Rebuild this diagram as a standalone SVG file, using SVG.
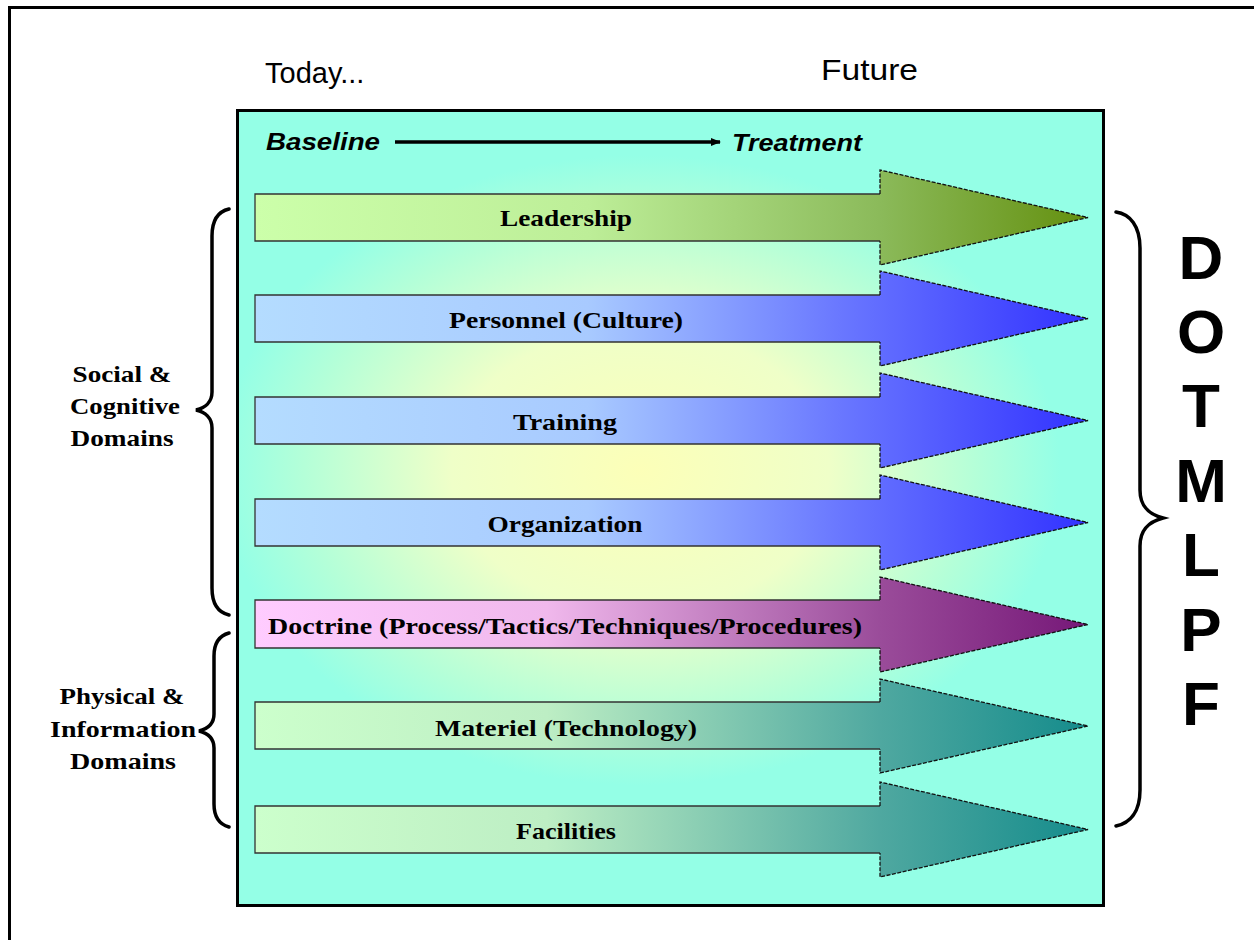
<svg xmlns="http://www.w3.org/2000/svg" width="1254" height="940" viewBox="0 0 1254 940">
<style>
.hdr{font-family:"Liberation Sans",Arial,sans-serif;font-size:29px;fill:#000}
.bt{font-family:"Liberation Sans",Arial,sans-serif;font-size:23px;font-weight:bold;font-style:italic;fill:#000}
.lbl{font-family:"Liberation Serif","Times New Roman",serif;font-size:24px;font-weight:bold;fill:#000;text-anchor:middle}
.side{font-family:"Liberation Serif","Times New Roman",serif;font-size:23px;font-weight:bold;fill:#000;text-anchor:middle}
.big{font-family:"Liberation Sans",Arial,sans-serif;font-size:62px;font-weight:bold;fill:#000;text-anchor:middle}
.shaft{fill:none;stroke:#333;stroke-width:1.3}
.head{fill:none;stroke:#111;stroke-width:1.3;stroke-dasharray:4 1.5}
.brace{fill:none;stroke:#000;stroke-width:3.5;stroke-linecap:round}
</style>
<defs>
<radialGradient id="bg" cx="640" cy="470" r="420" gradientUnits="userSpaceOnUse" gradientTransform="translate(640 470) scale(1 0.75) translate(-640 -470)">
<stop offset="0" stop-color="#FCFFB8"/>
<stop offset="0.45" stop-color="#EFFFC8"/>
<stop offset="0.8" stop-color="#B4FFD8"/>
<stop offset="1" stop-color="#94FFE6"/>
</radialGradient>
<linearGradient id="gL" x1="255" y1="0" x2="1088" y2="0" gradientUnits="userSpaceOnUse">
<stop offset="0" stop-color="#CCFFAA"/><stop offset="0.4" stop-color="#BDEE98"/><stop offset="0.75" stop-color="#8BBA5A"/><stop offset="1" stop-color="#64900F"/>
</linearGradient>
<linearGradient id="gB" x1="255" y1="0" x2="1088" y2="0" gradientUnits="userSpaceOnUse">
<stop offset="0" stop-color="#B4DCFF"/><stop offset="0.4" stop-color="#A8CAFF"/><stop offset="0.7" stop-color="#6A78FF"/><stop offset="1" stop-color="#3232FF"/>
</linearGradient>
<linearGradient id="gP" x1="255" y1="0" x2="1088" y2="0" gradientUnits="userSpaceOnUse">
<stop offset="0" stop-color="#FFCCFF"/><stop offset="0.35" stop-color="#F0B8EC"/><stop offset="0.75" stop-color="#9A4C9A"/><stop offset="1" stop-color="#761878"/>
</linearGradient>
<linearGradient id="gT" x1="255" y1="0" x2="1088" y2="0" gradientUnits="userSpaceOnUse">
<stop offset="0" stop-color="#CCFFCC"/><stop offset="0.35" stop-color="#BDEEC4"/><stop offset="0.75" stop-color="#4FA8A0"/><stop offset="1" stop-color="#158C8C"/>
</linearGradient>
<marker id="ah" markerWidth="10" markerHeight="8" refX="9" refY="4" orient="auto" markerUnits="userSpaceOnUse">
<path d="M0,0 L10,4 L0,8 Z" fill="#000"/>
</marker>
</defs>
<rect width="1254" height="940" fill="#fff"/>
<path d="M9.5,942 V7.5 H1256" fill="none" stroke="#000" stroke-width="3"/>
<text class="hdr" x="265" y="83">Today...</text>
<text class="hdr" x="821" y="80" textLength="97" lengthAdjust="spacingAndGlyphs">Future</text>
<g id="panel">
<rect x="237.5" y="110.5" width="866" height="795" fill="url(#bg)" stroke="#000" stroke-width="3"/>
</g>
<g id="timeline">
<text class="bt" x="266" y="150" textLength="114" lengthAdjust="spacingAndGlyphs">Baseline</text>
<line x1="395" y1="142" x2="720" y2="142" stroke="#000" stroke-width="3.5" marker-end="url(#ah)"/>
<text class="bt" x="732" y="151" textLength="130" lengthAdjust="spacingAndGlyphs">Treatment</text>
</g>
<g id="connectors"></g>
<g id="leadership">
<path d="M255,194 H880 V170 L1088,217.5 L880,265 V241 H255 Z" fill="url(#gL)"/>
<path class="shaft" d="M880,194 H255 V241 H880"/>
<path class="head" d="M880,194 V170 L1088,217.5 L880,265 V241"/>
<text class="lbl" x="566" y="226" textLength="132" lengthAdjust="spacingAndGlyphs">Leadership</text>
</g>
<g id="personnel">
<path d="M255,295 H880 V271 L1088,318.5 L880,366 V342 H255 Z" fill="url(#gB)"/>
<path class="shaft" d="M880,295 H255 V342 H880"/>
<path class="head" d="M880,295 V271 L1088,318.5 L880,366 V342"/>
<text class="lbl" x="566" y="328" textLength="234" lengthAdjust="spacingAndGlyphs">Personnel (Culture)</text>
</g>
<g id="training">
<path d="M255,397 H880 V373 L1088,420.5 L880,468 V444 H255 Z" fill="url(#gB)"/>
<path class="shaft" d="M880,397 H255 V444 H880"/>
<path class="head" d="M880,397 V373 L1088,420.5 L880,468 V444"/>
<text class="lbl" x="565" y="430" textLength="104" lengthAdjust="spacingAndGlyphs">Training</text>
</g>
<g id="organization">
<path d="M255,499 H880 V475 L1088,522.5 L880,570 V546 H255 Z" fill="url(#gB)"/>
<path class="shaft" d="M880,499 H255 V546 H880"/>
<path class="head" d="M880,499 V475 L1088,522.5 L880,570 V546"/>
<text class="lbl" x="565" y="532" textLength="155" lengthAdjust="spacingAndGlyphs">Organization</text>
</g>
<g id="doctrine">
<path d="M255,600 H880 V577 L1088,624.5 L880,672 V648 H255 Z" fill="url(#gP)"/>
<path class="shaft" d="M880,600 H255 V648 H880"/>
<path class="head" d="M880,600 V577 L1088,624.5 L880,672 V648"/>
<text class="lbl" x="565" y="634" textLength="594" lengthAdjust="spacingAndGlyphs">Doctrine (Process/Tactics/Techniques/Procedures)</text>
</g>
<g id="materiel">
<path d="M255,702 H880 V679 L1088,726 L880,773 V749 H255 Z" fill="url(#gT)"/>
<path class="shaft" d="M880,702 H255 V749 H880"/>
<path class="head" d="M880,702 V679 L1088,726 L880,773 V749"/>
<text class="lbl" x="566" y="736" textLength="262" lengthAdjust="spacingAndGlyphs">Materiel (Technology)</text>
</g>
<g id="facilities">
<path d="M255,806 H880 V782 L1088,829.5 L880,877 V853 H255 Z" fill="url(#gT)"/>
<path class="shaft" d="M880,806 H255 V853 H880"/>
<path class="head" d="M880,806 V782 L1088,829.5 L880,877 V853"/>
<text class="lbl" x="566" y="839" textLength="100" lengthAdjust="spacingAndGlyphs">Facilities</text>
</g>
<g id="social-brace">
<path class="brace" d="M229,209 C216,212 212,222 212,236 V392 C212,402 205,408 196,410 C205,412 212,418 212,428 V588 C212,602 216,612 229,615"/>
<text class="side" x="122" y="382" textLength="99" lengthAdjust="spacingAndGlyphs">Social &amp;</text>
<text class="side" x="125" y="414" textLength="110" lengthAdjust="spacingAndGlyphs">Cognitive</text>
<text class="side" x="122" y="446" textLength="103" lengthAdjust="spacingAndGlyphs">Domains</text>
</g>
<g id="physical-brace">
<path class="brace" d="M229,633 C218,636 214,644 214,656 V714 C214,724 207,729 199,731 C207,733 214,738 214,748 V804 C214,816 218,824 229,827"/>
<text class="side" x="122" y="704" textLength="125" lengthAdjust="spacingAndGlyphs">Physical &amp;</text>
<text class="side" x="123" y="737" textLength="146" lengthAdjust="spacingAndGlyphs">Information</text>
<text class="side" x="123" y="769" textLength="106" lengthAdjust="spacingAndGlyphs">Domains</text>
</g>
<g id="dotmlpf-brace">
<path class="brace" d="M1116,212 C1130,214 1140,226 1140,248 V490 C1140,506 1148,514 1163,518 C1148,522 1140,530 1140,546 V790 C1140,812 1130,823 1116,826"/>
<text class="big" x="1201" y="279">D</text>
<text class="big" x="1201" y="353">O</text>
<text class="big" x="1201" y="427">T</text>
<text class="big" x="1201" y="502">M</text>
<text class="big" x="1201" y="576">L</text>
<text class="big" x="1201" y="651">P</text>
<text class="big" x="1201" y="725">F</text>
</g>
</svg>
